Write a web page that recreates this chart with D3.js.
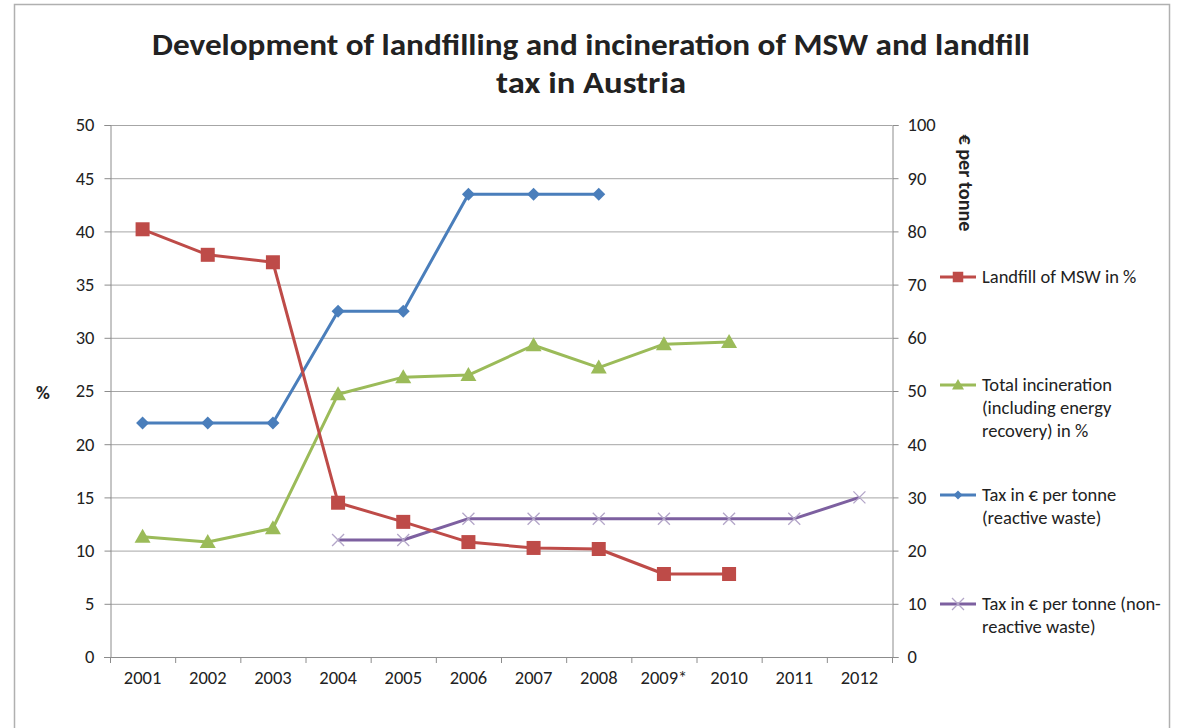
<!DOCTYPE html>
<html>
<head>
<meta charset="utf-8">
<script src="https://cdn.jsdelivr.net/npm/d3@7"></script>
<style>
  html, body { margin: 0; padding: 0; background: #fff; }
  svg text { font-family: Carlito, Lato, "Open Sans", sans-serif; fill: #222; }
</style>
</head>
<body>
<svg id="chart" width="1179" height="728"></svg>
<script>
// Categories (years) and series
const years = ["2001", "2002", "2003", "2004", "2005", "2006", "2007", "2008", "2009*", "2010", "2011", "2012"];
const landfillPct = [40.2, 37.8, 37.1, 14.5, 12.7, 10.8, 10.25, 10.15, 7.8, 7.8, null, null];
const incinerationPct = [11.3, 10.8, 12.1, 24.7, 26.3, 26.5, 29.3, 27.2, 29.4, 29.6, null, null];
const taxReactive = [44, 44, 44, 65, 65, 87, 87, 87, null, null, null, null];
const taxNonReactive = [null, null, null, 22, 22, 26, 26, 26, 26, 26, 26, 30];
const leftTicks = [0, 5, 10, 15, 20, 25, 30, 35, 40, 45, 50];
const rightTicks = [0, 10, 20, 30, 40, 50, 60, 70, 80, 90, 100];
const titleLines = ["Development of landfilling and incineration of MSW and landfill", "tax in Austria"];

const svg = d3.select("#chart");

// outer frame
svg.append("rect").attr("x", 14.5).attr("y", 4.5).attr("width", 1155).attr("height", 740)
  .attr("fill", "none").attr("stroke", "#b0b0b0").attr("stroke-width", 1.5);

const plot = { left: 110, right: 892, top: 125, bottom: 657 };

const x = d3.scaleBand().domain(years).range([plot.left, plot.right]);
const yL = d3.scaleLinear().domain([0, 50]).range([plot.bottom, plot.top]);
const yR = d3.scaleLinear().domain([0, 100]).range([plot.bottom, plot.top]);
const cx = d => x(d) + x.bandwidth() / 2;

// title
const titleWidths = [878, 190];
svg.append("g").selectAll("text").data(titleLines).join("text")
  .attr("x", 591).attr("y", (d, i) => 55 + i * 38)
  .attr("text-anchor", "middle")
  .attr("textLength", (d, i) => titleWidths[i]).attr("lengthAdjust", "spacingAndGlyphs")
  .style("font-size", "31px").style("font-weight", "bold")
  .text(d => d);

// gridlines
svg.append("g").selectAll("line").data(leftTicks.slice(1)).join("line")
  .attr("x1", plot.left).attr("x2", plot.right)
  .attr("y1", d => yL(d) + 0.5).attr("y2", d => yL(d) + 0.5)
  .attr("stroke", "#a6a6a6").attr("stroke-width", 1);

// left axis
const axL = svg.append("g").attr("transform", `translate(${plot.left + 0.5},0)`)
  .call(d3.axisLeft(yL).tickValues(leftTicks).tickSize(6).tickPadding(10));
// right axis
const axR = svg.append("g").attr("transform", `translate(${plot.right + 0.5},0)`)
  .call(d3.axisRight(yR).tickValues(rightTicks).tickSize(6).tickPadding(9));
// bottom axis
const axB = svg.append("g").attr("transform", `translate(0,${plot.bottom + 0.5})`)
  .call(d3.axisBottom(x).tickSize(0).tickPadding(13));

[axL, axR, axB].forEach(a => {
  a.select(".domain").attr("stroke", "#8c8c8c");
  a.selectAll(".tick line").attr("stroke", "#8c8c8c");
  a.selectAll(".tick text").style("font-size", "18.5px").style("font-family", "Carlito, Lato, sans-serif").attr("fill", "#333");
});
axB.select(".domain").attr("d", `M${plot.left - 6},0H${plot.right + 6}`);

// category boundary ticks below baseline
const bounds = years.map(d => x(d)).concat([plot.right]);
svg.append("g").selectAll("line").data(bounds).join("line")
  .attr("x1", d => d + 0.5).attr("x2", d => d + 0.5)
  .attr("y1", plot.bottom).attr("y2", plot.bottom + 6)
  .attr("stroke", "#8c8c8c");

// axis titles
svg.append("text").attr("x", 43).attr("y", 399).attr("text-anchor", "middle")
  .style("font-size", "19px").style("font-weight", "bold").text("%");
svg.append("text").attr("transform", "translate(959,183) rotate(90)")
  .attr("text-anchor", "middle").style("font-size", "20px").style("font-weight", "bold")
  .attr("textLength", 97).attr("lengthAdjust", "spacingAndGlyphs")
  .text("€ per tonne");

// marker shapes
const markers = {
  square: g => g.append("rect").attr("x", -7).attr("y", -7).attr("width", 14).attr("height", 14),
  triangle: g => g.append("path").attr("d", "M0,-8L8,6L-8,6Z"),
  diamond: g => g.append("path").attr("d", "M0,-6.5L6.5,0L0,6.5L-6.5,0Z"),
  cross: g => g.append("path").attr("d", "M-6,-6L6,6M-6,6L6,-6").attr("fill", "none")
};

const series = [
  { name: ["Landfill of MSW in %"], values: landfillPct, scale: yL, color: "#be4b48", marker: "square", legendY: 277 },
  { name: ["Total incineration", "(including energy", "recovery) in %"], values: incinerationPct, scale: yL, color: "#9bbb59", marker: "triangle", legendY: 385 },
  { name: ["Tax in € per tonne", "(reactive waste)"], values: taxReactive, scale: yR, color: "#4a7ebb", marker: "diamond", legendY: 495 },
  { name: ["Tax in € per tonne (non-", "reactive waste)"], values: taxNonReactive, scale: yR, color: "#7d60a0", marker: "cross", legendY: 604 }
];

const drawOrder = [2, 1, 3, 0];
drawOrder.forEach(i => {
  const s = series[i];
  const pts = years.map((yr, j) => ({ yr, v: s.values[j] })).filter(p => p.v != null);
  const line = d3.line().x(p => cx(p.yr)).y(p => s.scale(p.v));
  svg.append("path").datum(pts).attr("d", line)
    .attr("fill", "none").attr("stroke", s.color).attr("stroke-width", 3)
    .attr("stroke-linejoin", "round");
  pts.forEach(p => {
    const g = svg.append("g").attr("transform", `translate(${cx(p.yr)},${s.scale(p.v)})`);
    const m = markers[s.marker](g);
    if (s.marker === "cross") m.attr("stroke", "#b3a6c8").attr("stroke-width", 1.3);
    else m.attr("fill", s.color);
  });
});

// legend
series.forEach(s => {
  const g = svg.append("g").attr("transform", `translate(958,${s.legendY})`);
  g.append("line").attr("x1", -18).attr("x2", 18).attr("stroke", s.color).attr("stroke-width", 3);
  const m = markers[s.marker](g);
  if (s.marker === "cross") m.attr("stroke", "#b3a6c8").attr("stroke-width", 1.3);
  else m.attr("fill", s.color).attr("transform", s.marker === "diamond" ? "scale(0.7)" : "scale(0.75)");
  g.append("text").attr("x", 24).attr("y", 0)
    .style("font-size", "18.5px").attr("fill", "#333")
    .selectAll("tspan").data(s.name).join("tspan")
    .attr("x", 24).attr("dy", (d, i) => i === 0 ? "0.35em" : "23px")
    .text(d => d);
});
</script>
</body>
</html>
